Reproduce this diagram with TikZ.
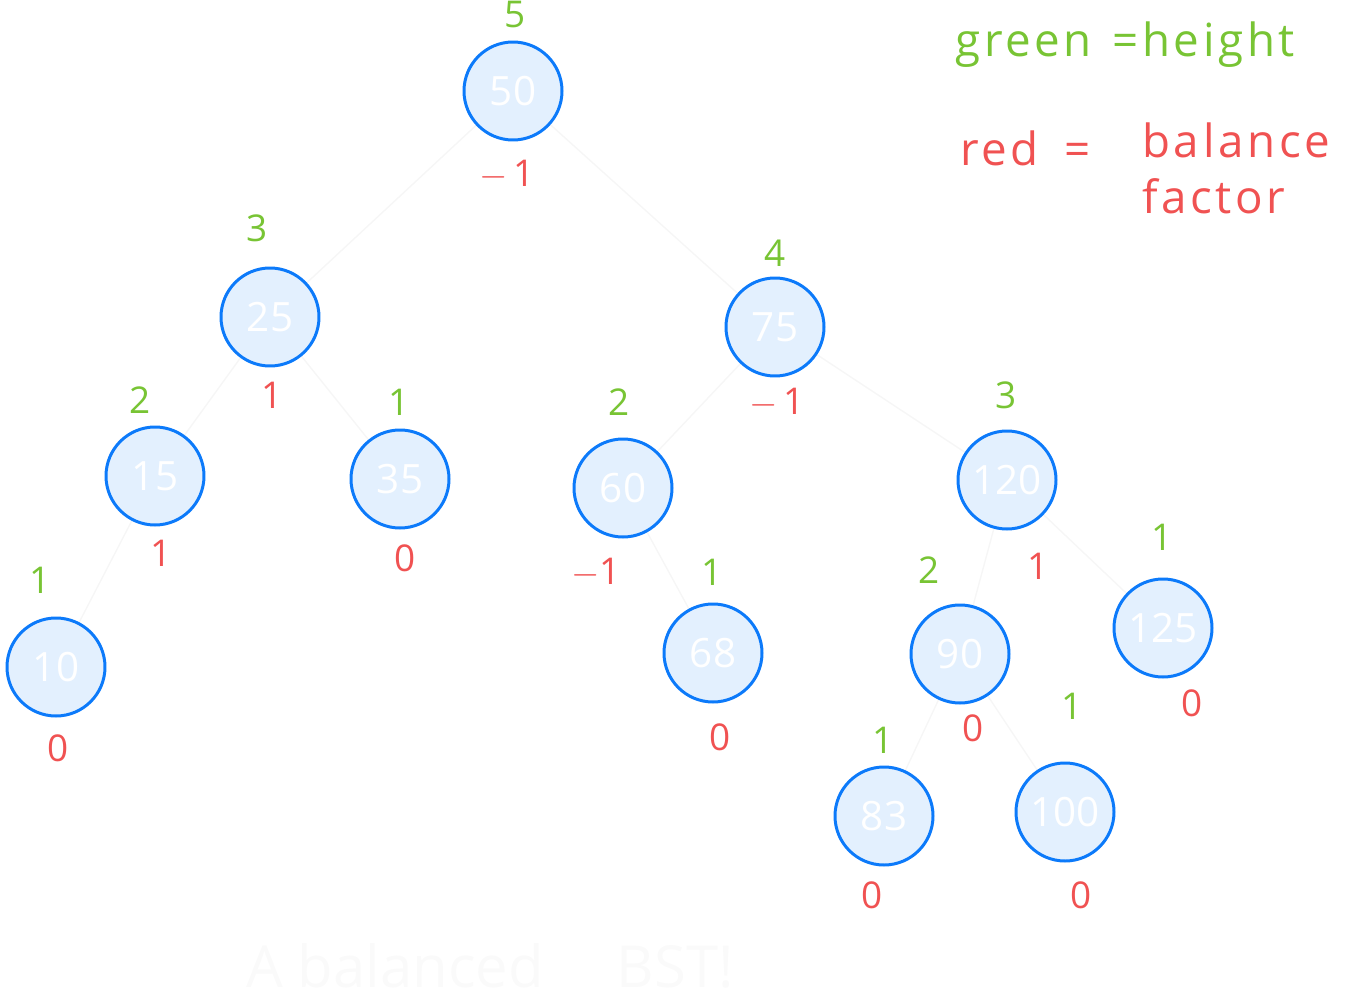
\documentclass[tikz,border=0pt]{standalone}
\usepackage{fontspec}
\setmainfont{Open Sans}
\usepackage{tikz}
\usetikzlibrary{backgrounds}
\definecolor{htgreen}{RGB}{120,196,52}
\definecolor{bfred}{RGB}{240,82,82}
\definecolor{bstblue}{RGB}{12,122,250}
\definecolor{bstfill}{RGB}{227,240,254}
\definecolor{faint}{RGB}{246,246,246}
\definecolor{ghost}{RGB}{250,250,250}

\begin{document}
\begin{tikzpicture}[x=0.2mm, y=-0.2mm,
  bst/.style={circle, draw=bstblue, fill=bstfill, line width=1.7pt,
              minimum size=19.6mm, inner sep=0pt, text=white,
              font=\fontsize{23}{26}\selectfont},
  ht/.style={text=htgreen, inner sep=1pt, font=\fontsize{21}{24}\selectfont},
  bf/.style={text=bfred, inner sep=1pt, font=\fontsize{21}{24}\selectfont},
  legend/.style={anchor=west, inner sep=0pt, align=left,
                 font=\fontsize{26}{32}\selectfont\addfontfeature{LetterSpace=8}},
  edge/.style={draw=faint, line width=0.8pt}]
 \useasboundingbox (0,0) rectangle (1355,1000);
 % the tree
 \node[bst] (n50)  at (513,91)   {50};
 \node[bst] (n25)  at (270,317)  {25};
 \node[bst] (n75)  at (775,327)  {75};
 \node[bst] (n15)  at (155,476)  {15};
 \node[bst] (n35)  at (400,479)  {35};
 \node[bst] (n60)  at (623,488)  {60};
 \node[bst] (n120) at (1007,480) {120};
 \node[bst] (n10)  at (56,667)   {10};
 \node[bst] (n68)  at (713,653)  {68};
 \node[bst] (n90)  at (960,654)  {90};
 \node[bst] (n125) at (1163,628) {125};
 \node[bst] (n83)  at (884,816)  {83};
 \node[bst] (n100) at (1065,812) {100};
 % heights
 \node[ht] (h50)  at (515,15)   {5};
 \node[ht] (h25)  at (257,228)  {3};
 \node[ht] (h75)  at (775,253)  {4};
 \node[ht] (h15)  at (140,400)  {2};
 \node[ht] (h35)  at (399,402)  {1};
 \node[ht] (h60)  at (619,402)  {2};
 \node[ht] (h120) at (1006,395) {3};
 \node[ht] (h10)  at (40,580)   {1};
 \node[ht] (h68)  at (712,572)  {1};
 \node[ht] (h90)  at (929,570)  {2};
 \node[ht] (h125) at (1162,537) {1};
 \node[ht] (h83)  at (883,740)  {1};
 \node[ht] (h100) at (1072,706) {1};
 % balance factors
 \node[bf] (b50)  at (507,175)  {$-$\,1};
 \node[bf] (b25)  at (272,395)  {1};
 \node[bf] (b75)  at (777,403)  {$-$\,1};
 \node[bf] (b15)  at (161,553)  {1};
 \node[bf] (b35)  at (405,558)  {0};
 \node[bf] (b60)  at (596,573)  {$-$1};
 \node[bf] (b120) at (1038,566) {1};
 \node[bf] (b10)  at (58,748)   {0};
 \node[bf] (b68)  at (720,737)  {0};
 \node[bf] (b90)  at (973,728)  {0};
 \node[bf] (b125) at (1192,703) {0};
 \node[bf] (b83)  at (872,895)  {0};
 \node[bf] (b100) at (1081,895) {0};
 % legend
 \node[legend, text=htgreen] (lgreen) at (955,45)  {green\;\,=height};
 \node[legend, text=bfred]   (lred)   at (960,148) {red\;\;=};
 \node[legend, text=bfred, anchor=north west] (lbal) at (1142,122) {balance\\factor};
 \node[font=\fontsize{33}{38}\selectfont, text=ghost] (title) at (490,966) {A balanced \quad BST!};
 \begin{scope}[on background layer]
  \draw[edge] (n50) -- (n25);
  \draw[edge] (n50) -- (n75);
  \draw[edge] (n25) -- (n15);
  \draw[edge] (n25) -- (n35);
  \draw[edge] (n15) -- (n10);
  \draw[edge] (n75) -- (n60);
  \draw[edge] (n75) -- (n120);
  \draw[edge] (n60) -- (n68);
  \draw[edge] (n120) -- (n90);
  \draw[edge] (n120) -- (n125);
  \draw[edge] (n90) -- (n83);
  \draw[edge] (n90) -- (n100);
 \end{scope}
\end{tikzpicture}
\end{document}
